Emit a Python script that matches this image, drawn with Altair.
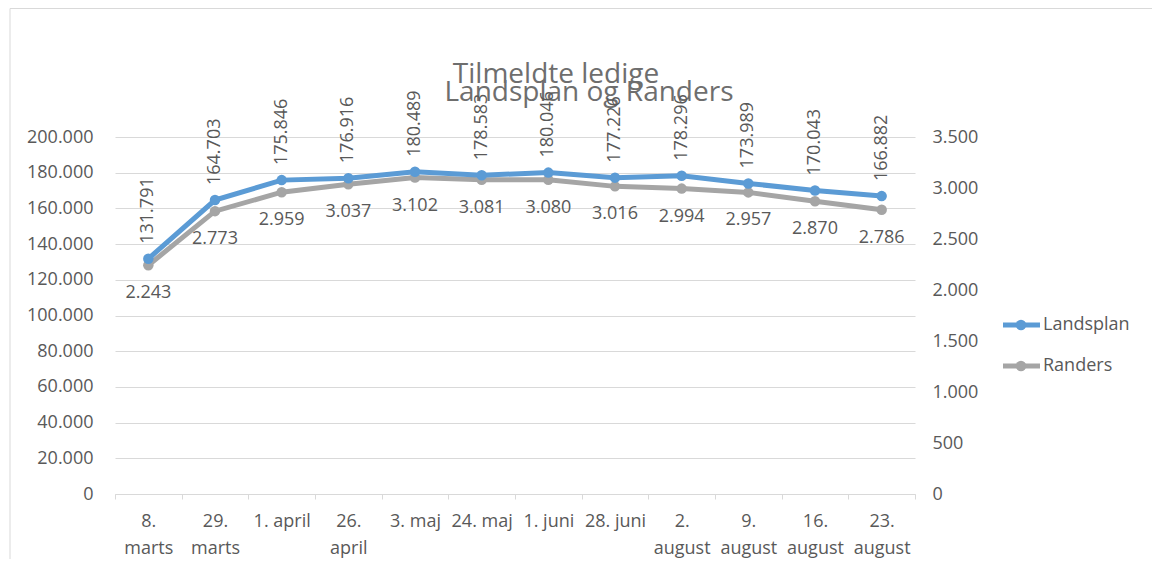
import altair as alt
import pandas as pd

categories = ["8.\nmarts", "29.\nmarts", "1. april", "26.\napril", "3. maj", "24. maj",
              "1. juni", "28. juni", "2.\naugust", "9.\naugust", "16.\naugust", "23.\naugust"]
landsplan = [131791, 164703, 175846, 176916, 180489, 178583, 180046, 177226, 178296, 173989, 170043, 166882]
randers = [2243, 2773, 2959, 3037, 3102, 3081, 3080, 3016, 2994, 2957, 2870, 2786]
series = ["Landsplan", "Randers"]
colors = ["#5B9BD5", "#A5A5A5"]
title_lines = ["Tilmeldte ledige", "Landsplan og Randers"]
left_ticks = list(range(0, 200001, 20000))
right_ticks = list(range(0, 3501, 500))


def dk(v):
    return f"{v:,}".replace(",", ".")


df = pd.DataFrame({
    "cat": categories,
    "Landsplan": landsplan,
    "Randers": randers,
    "l_lab": [dk(v) for v in landsplan],
    "r_lab": [dk(v) for v in randers],
})

FONT = "Open Sans"
TXT = "#595959"
GRID = "#D9D9D9"
FS = 18
DKFMT = "replace(format(datum.value, ','), ',', '.')"

x = alt.X("cat:N", sort=categories,
          scale=alt.Scale(paddingInner=0, paddingOuter=0),
          axis=alt.Axis(title=None, labelAngle=0, labelExpr="split(datum.label, '\\n')",
                        tickBand="extent", domainColor=GRID, tickColor=GRID, tickSize=5,
                        labelPadding=13, labelColor=TXT, labelFontSize=FS, labelFont=FONT,
                        labelLineHeight=27, labelBaseline="top", grid=False))

yl = alt.Y("Landsplan:Q", scale=alt.Scale(domain=[0, 200000], nice=False),
           axis=alt.Axis(orient="left", values=left_ticks, labelExpr=DKFMT, title=None,
                         domain=False, ticks=False, grid=True, gridColor=GRID,
                         labelPadding=22, labelColor=TXT, labelFontSize=FS, labelFont=FONT))
yr = alt.Y("Randers:Q", scale=alt.Scale(domain=[0, 3500], nice=False),
           axis=alt.Axis(orient="right", values=right_ticks, labelExpr=DKFMT, title=None,
                         domain=False, ticks=False, grid=False,
                         labelPadding=17, labelColor=TXT, labelFontSize=FS, labelFont=FONT))

base = alt.Chart(df)
land = alt.layer(
    base.mark_line(color=colors[0], strokeWidth=5).encode(x=x, y=yl),
    base.mark_point(color=colors[0], filled=True, size=110, opacity=1).encode(x=x, y=yl),
    base.mark_text(angle=270, align="left", baseline="middle", dx=15, fontSize=FS,
                   font=FONT, color=TXT).encode(x=x, y=yl, text="l_lab:N"),
)
rand = alt.layer(
    base.mark_line(color=colors[1], strokeWidth=5).encode(x=x, y=yr),
    base.mark_point(color=colors[1], filled=True, size=110, opacity=1).encode(x=x, y=yr),
    base.mark_text(baseline="middle", dy=28, fontSize=FS, font=FONT, color=TXT)
        .encode(x=x, y=yr, text="r_lab:N"),
)

leg_df = pd.DataFrame({"s": series})
ly = alt.Y("s:N", scale=alt.Scale(type="point", domain=series, range=[188, 229], padding=0), axis=None)
lc = alt.Color("s:N", scale=alt.Scale(domain=series, range=colors), legend=None)
legend = alt.layer(
    alt.Chart(leg_df).mark_rule(strokeWidth=5).encode(x=alt.value(888), x2=alt.value(925), y=ly, color=lc),
    alt.Chart(leg_df).mark_point(filled=True, size=110, opacity=1).encode(x=alt.value(906), y=ly, color=lc),
    alt.Chart(leg_df).mark_text(align="left", baseline="middle", fontSize=FS, font=FONT, color=TXT)
        .encode(x=alt.value(928), y=ly, text="s:N"),
)

title_style = dict(fontSize=28, font=FONT, color="#6E6E6E", align="center", baseline="alphabetic")
title = alt.layer(
    alt.Chart(pd.DataFrame({"t": [title_lines[0]]})).mark_text(**title_style).encode(
        x=alt.value(441), y=alt.value(-54), text="t:N"),
    alt.Chart(pd.DataFrame({"t": [title_lines[1]]})).mark_text(**title_style).encode(
        x=alt.value(474), y=alt.value(-36), text="t:N"),
)

frame_df = pd.DataFrame({"a": [0]})
frame = alt.layer(
    alt.Chart(frame_df).mark_rule(color=GRID, strokeWidth=1).encode(
        x=alt.value(-105), x2=alt.value(1100), y=alt.value(-128.5)),
    alt.Chart(frame_df).mark_rule(color=GRID, strokeWidth=1).encode(
        x=alt.value(-105), y=alt.value(-128.5), y2=alt.value(480)),
)

chart = alt.layer(frame, title, rand, land, legend).resolve_scale(
    y="independent", color="independent"
).properties(
    width=800, height=357,
    padding={"left": 107, "top": 129, "right": 237, "bottom": 65},
    autosize=alt.AutoSizeParams(type="none"),
).configure_view(strokeWidth=0)

chart.save("out.html", embed_options={"renderer": "svg", "actions": False})
